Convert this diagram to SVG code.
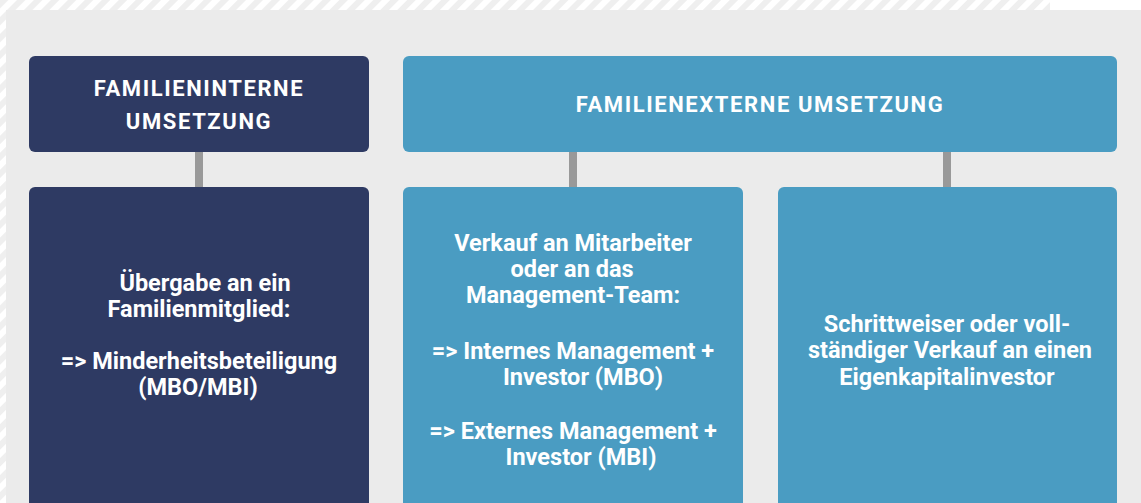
<svg xmlns="http://www.w3.org/2000/svg" width="1141" height="503" viewBox="0 0 1141 503">
  <defs>
    <pattern id="hatch" width="12" height="12" patternUnits="userSpaceOnUse" patternTransform="rotate(45)">
      <rect width="12" height="12" fill="#ffffff"/>
      <rect width="6" height="12" fill="#efefef"/>
    </pattern>
  </defs>
  <style>
    .dark { fill: #2e3a63; }
    .blue { fill: #4a9cc2; }
    .conn { fill: #999999; }
    .hdr { font-family: Roboto, "Liberation Sans", sans-serif; font-weight: 700; font-size: 22px; letter-spacing: 1.6px; fill: #ffffff; text-anchor: middle; }
    .body { font-family: Roboto, "Liberation Sans", sans-serif; font-weight: 700; font-size: 23.5px; fill: #ffffff; text-anchor: middle; }
  </style>
  <rect x="-10" y="-10" width="1060" height="600" rx="4" fill="url(#hatch)"/>
  <rect x="6" y="10" width="1140" height="500" fill="#ebebeb"/>

  <g id="connectors">
    <rect class="conn" x="195" y="150" width="8" height="40"/>
    <rect class="conn" x="569" y="150" width="8" height="40"/>
    <rect class="conn" x="943" y="150" width="8" height="40"/>
  </g>

  <g id="header-intern">
    <rect class="dark" x="29" y="56" width="340" height="96" rx="6"/>
    <text class="hdr" x="199" y="96">FAMILIENINTERNE</text>
    <text class="hdr" x="199" y="129">UMSETZUNG</text>
  </g>

  <g id="header-extern">
    <rect class="blue" x="403" y="56" width="714" height="96" rx="6"/>
    <text class="hdr" x="760" y="112">FAMILIENEXTERNE UMSETZUNG</text>
  </g>

  <g id="box-intern">
    <rect class="dark" x="29" y="187" width="340" height="330" rx="6"/>
    <text class="body" x="205" y="291">Übergabe an ein</text>
    <text class="body" x="199" y="317">Familienmitglied:</text>
    <text class="body" x="199" y="369">=&gt; Minderheitsbeteiligung</text>
    <text class="body" x="198" y="395">(MBO/MBI)</text>
  </g>

  <g id="box-mitarbeiter">
    <rect class="blue" x="403" y="187" width="340" height="330" rx="6"/>
    <text class="body" x="573" y="251">Verkauf an Mitarbeiter</text>
    <text class="body" x="572" y="277">oder an das</text>
    <text class="body" x="573" y="303">Management-Team:</text>
    <text class="body" x="573" y="359">=&gt; Internes Management +</text>
    <text class="body" x="583" y="385">Investor (MBO)</text>
    <text class="body" x="573" y="439">=&gt; Externes Management +</text>
    <text class="body" x="581" y="465">Investor (MBI)</text>
  </g>

  <g id="box-investor">
    <rect class="blue" x="778" y="187" width="339" height="330" rx="6"/>
    <text class="body" x="947" y="332">Schrittweiser oder voll-</text>
    <text class="body" x="950" y="358">ständiger Verkauf an einen</text>
    <text class="body" x="947" y="385">Eigenkapitalinvestor</text>
  </g>
</svg>
